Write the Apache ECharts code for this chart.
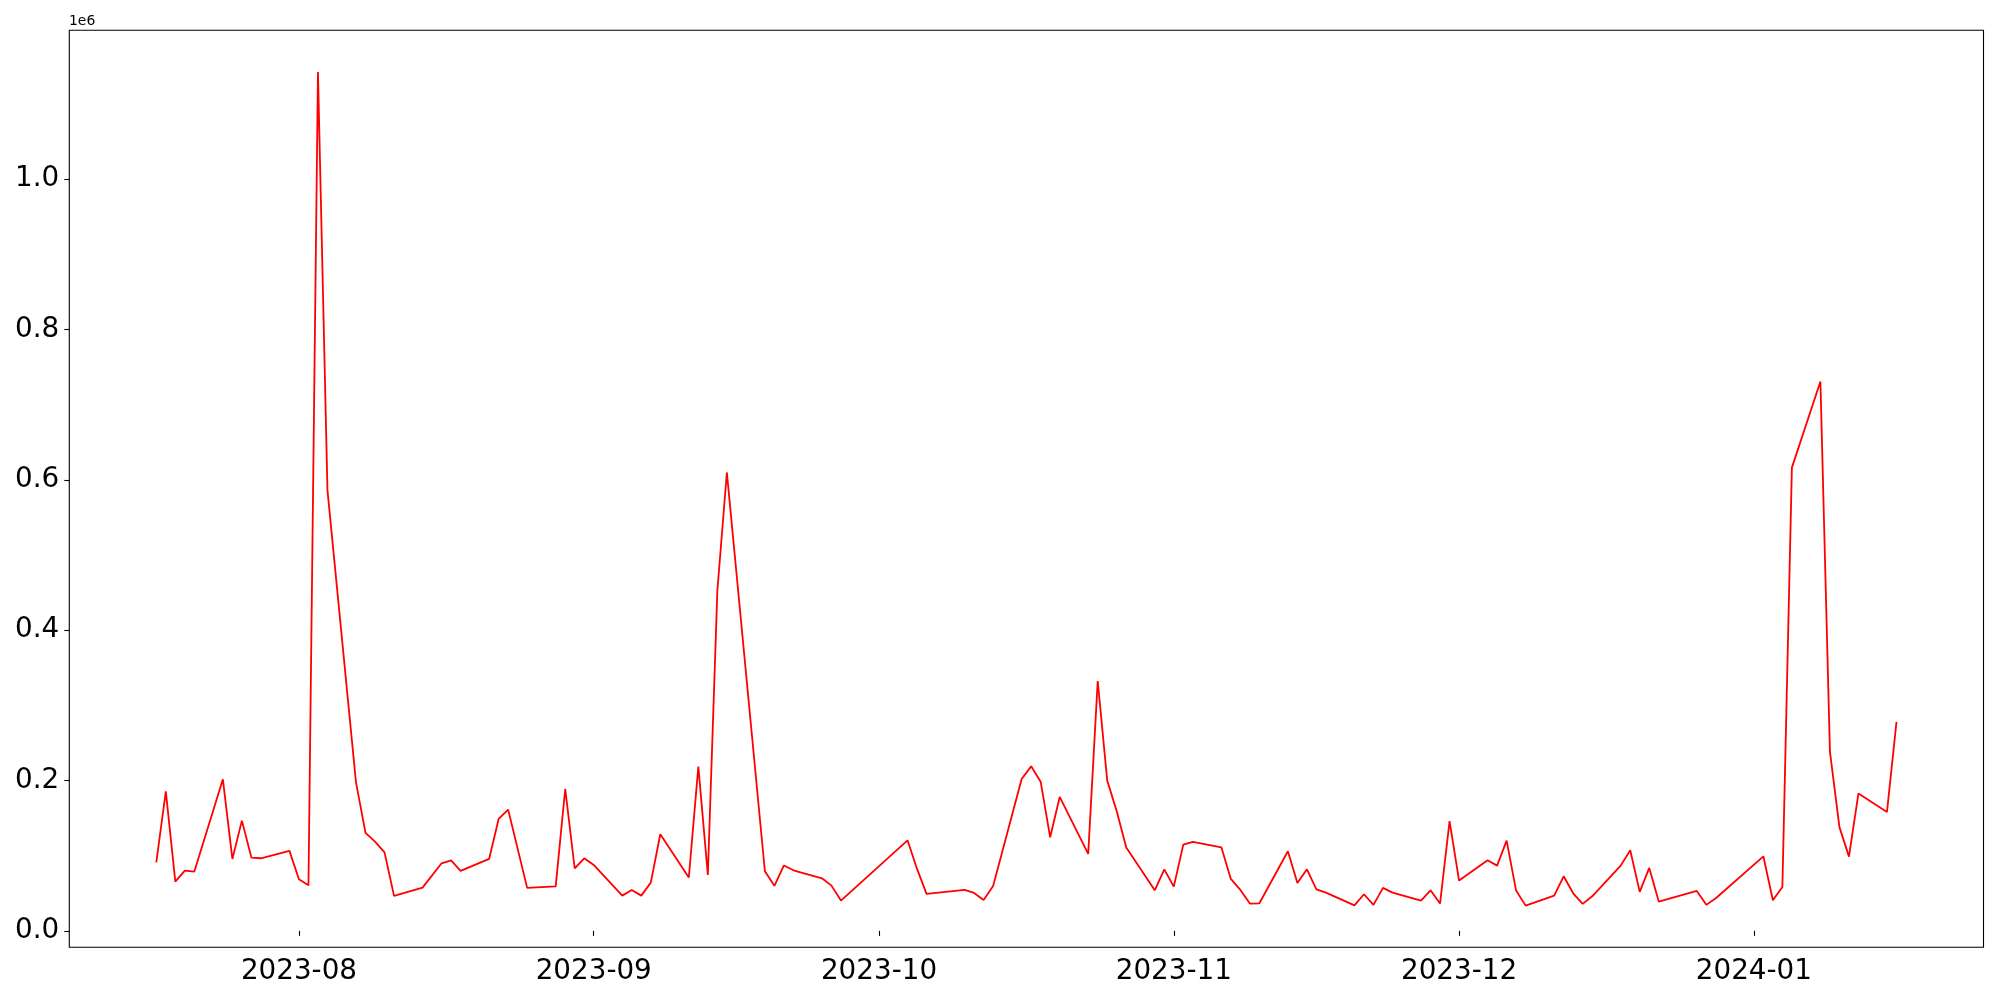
<!DOCTYPE html>
<html>
<head>
<meta charset="utf-8">
<script src="https://cdn.jsdelivr.net/npm/echarts@6/dist/echarts.min.js"></script>
<style>
  html, body { margin: 0; padding: 0; background: #fff; }
  #chart { width: 2000px; height: 1000px; }
</style>
</head>
<body>
<div id="chart"></div>
<script>
// ---- data ----
const dates = [
  '2023-07-17','2023-07-18','2023-07-19','2023-07-20','2023-07-21',
  '2023-07-24','2023-07-25','2023-07-26','2023-07-27','2023-07-28',
  '2023-07-31','2023-08-01','2023-08-02','2023-08-03','2023-08-04',
  '2023-08-07','2023-08-08','2023-08-09','2023-08-10','2023-08-11',
  '2023-08-14','2023-08-16','2023-08-17','2023-08-18',
  '2023-08-21','2023-08-22','2023-08-23','2023-08-25',
  '2023-08-28','2023-08-29','2023-08-30','2023-08-31','2023-09-01',
  '2023-09-04','2023-09-05','2023-09-06','2023-09-07','2023-09-08',
  '2023-09-11','2023-09-12','2023-09-13','2023-09-14','2023-09-15',
  '2023-09-19','2023-09-20','2023-09-21','2023-09-22',
  '2023-09-25','2023-09-26','2023-09-27',
  '2023-10-04','2023-10-05','2023-10-06',
  '2023-10-10','2023-10-11','2023-10-12','2023-10-13',
  '2023-10-16','2023-10-17','2023-10-18','2023-10-19','2023-10-20',
  '2023-10-23','2023-10-24','2023-10-25','2023-10-26','2023-10-27',
  '2023-10-30','2023-10-31','2023-11-01','2023-11-02','2023-11-03',
  '2023-11-06','2023-11-07','2023-11-08','2023-11-09','2023-11-10',
  '2023-11-13','2023-11-14','2023-11-15','2023-11-16','2023-11-17',
  '2023-11-20','2023-11-21','2023-11-22','2023-11-23','2023-11-24',
  '2023-11-27','2023-11-28','2023-11-29','2023-11-30','2023-12-01',
  '2023-12-04','2023-12-05','2023-12-06','2023-12-07','2023-12-08',
  '2023-12-11','2023-12-12','2023-12-13','2023-12-14','2023-12-15',
  '2023-12-18','2023-12-19','2023-12-20','2023-12-21','2023-12-22',
  '2023-12-26','2023-12-27','2023-12-28',
  '2024-01-02','2024-01-03','2024-01-04','2024-01-05',
  '2024-01-08','2024-01-09','2024-01-10','2024-01-11','2024-01-12',
  '2024-01-15','2024-01-16'
];
const values = [
  91200, 185600, 65600, 80200, 78900,
  201600, 95700, 146700, 97500, 96600,
  106400, 68600, 60700, 1142700, 586000,
  197600, 130300, 118700, 104500, 46500,
  57600, 89900, 93900, 79800,
  95700, 148900, 161300, 57200,
  59300, 188800, 83000, 96600, 87700,
  46900, 54500, 46900, 64200, 128500,
  71000, 218500, 74400, 452500, 609900,
  79300, 60000, 87000, 80600,
  70000, 60200, 40300,
  120500, 82400, 49200,
  54500, 50500, 41200, 59600,
  202100, 218900, 198500, 124500, 178200,
  102400, 332400, 199900, 159100, 110800,
  54000, 81900, 58900, 114800, 118300,
  111200, 69100, 54500, 36300, 36700,
  105900, 63800, 81900, 55300, 50900,
  34000, 48700, 34600, 57200, 50900,
  40300, 54000, 36300, 146100, 66900,
  93900, 86800, 120100, 53600, 33600,
  46900, 72600, 50000, 35900, 46000,
  86800, 107200, 51900, 83800, 39000,
  53200, 34600, 43400,
  99200, 40700, 58500, 616300,
  731000, 238500, 138000, 98800, 182800,
  158300, 278000
];
const xTicks = ['2023-08-01','2023-09-01','2023-10-01','2023-11-01','2023-12-01','2024-01-01'];
const yTicks = [0, 200000, 400000, 600000, 800000, 1000000];
const offsetText = '1e6';

// ---- helpers ----
function ts(s) {
  const p = s.split('-').map(Number);
  return Date.UTC(p[0], p[1] - 1, p[2]);
}
const xs = dates.map(ts);
const seriesData = xs.map((x, i) => [x, values[i]]);

// matplotlib-like 5% margins
const xMinD = Math.min(...xs), xMaxD = Math.max(...xs);
const xPad = (xMaxD - xMinD) * 0.05;
const yMinD = Math.min(...values), yMaxD = Math.max(...values);
const yPad = (yMaxD - yMinD) * 0.05;

const FONT = 'DejaVu Sans';
const chart = echarts.init(document.getElementById('chart'), null, { renderer: 'canvas' });

chart.setOption({
  animation: false,
  backgroundColor: '#ffffff',
  grid: {
    left: 69.3, right: 16.5, top: 30.3, bottom: 52.7,
    show: true, borderColor: '#000', borderWidth: 1.1, backgroundColor: 'transparent'
  },
  xAxis: {
    type: 'value',
    scale: true,
    min: xMinD - xPad,
    max: xMaxD + xPad,
    axisLine: { show: false },
    splitLine: { show: false },
    axisTick: {
      show: true, length: 5, customValues: xTicks.map(ts),
      lineStyle: { color: '#000', width: 1.1 }
    },
    axisLabel: {
      show: true, margin: 10, customValues: xTicks.map(ts),
      showMinLabel: true, showMaxLabel: true,
      color: '#000', fontFamily: FONT, fontSize: 27.8,
      formatter: function (v) {
        const d = new Date(v);
        const m = d.getUTCMonth() + 1;
        return d.getUTCFullYear() + '-' + (m < 10 ? '0' + m : m);
      }
    }
  },
  yAxis: {
    type: 'value',
    min: yMinD - yPad,
    max: yMaxD + yPad,
    axisLine: { show: false },
    splitLine: { show: false },
    axisTick: {
      show: true, length: 5, customValues: yTicks,
      lineStyle: { color: '#000', width: 1.1 }
    },
    axisLabel: {
      show: true, margin: 10, customValues: yTicks,
      color: '#000', fontFamily: FONT, fontSize: 27.8,
      formatter: function (v) { return (v / 1e6).toFixed(1); }
    }
  },
  graphic: [{
    type: 'text',
    left: 69,
    top: 14,
    style: { text: offsetText, fill: '#000', font: '13.9px "DejaVu Sans"' }
  }],
  series: [{
    type: 'line',
    data: seriesData,
    showSymbol: false,
    symbol: 'none',
    lineStyle: { color: '#ff0000', width: 1.8 },
    emphasis: { disabled: true }
  }]
});
</script>
</body>
</html>
